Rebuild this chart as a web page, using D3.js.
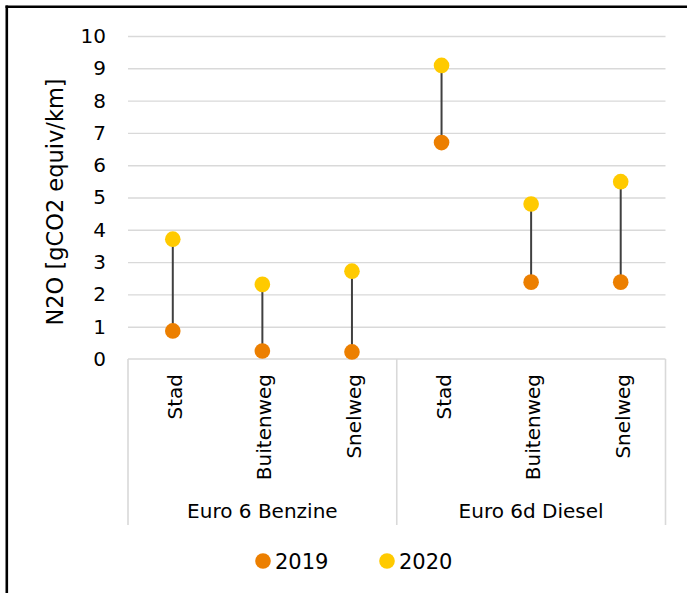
<!DOCTYPE html>
<html>
<head>
<meta charset="utf-8">
<script src="https://cdn.jsdelivr.net/npm/d3@7"></script>
<style>
  html, body { margin: 0; padding: 0; background: #fff; }
  svg { display: block; }
  text { font-family: "DejaVu Sans", "Liberation Sans", sans-serif; fill: #000; }
</style>
</head>
<body>
<svg id="chart" width="687" height="593"></svg>
<script>
// N2O emissions per road type, two vehicle classes, 2019 vs 2020
const groups = ["Euro 6 Benzine", "Euro 6d Diesel"];
const roads = ["Stad", "Buitenweg", "Snelweg"];
const values2019 = [0.87, 0.25, 0.22, 6.70, 2.38, 2.38];
const values2020 = [3.71, 2.31, 2.72, 9.09, 4.80, 5.49];
const yTicks = [0, 1, 2, 3, 4, 5, 6, 7, 8, 9, 10];
const seriesNames = ["2019", "2020"];
const seriesColors = ["#EC7F00", "#FFCA00"];
const yTitle = "N2O [gCO2 equiv/km]";

const svg = d3.select("#chart");
const W = 687, H = 593;
const plot = { left: 128, right: 665.5, top: 36, bottom: 359 };

// one slot per (group, road) pair
const keys = [];
groups.forEach((g, gi) => roads.forEach((r, ri) => keys.push({ key: g + "|" + r, group: g, road: r, i: gi * roads.length + ri })));

const x = d3.scaleBand().domain(keys.map(d => d.key)).range([plot.left, plot.right]).padding(0);
const xGroup = d3.scaleBand().domain(groups).range([plot.left, plot.right]).padding(0);
const y = d3.scaleLinear().domain([0, 10]).range([plot.bottom, plot.top]);

// outer frame (left and top edges visible)
svg.append("line").attr("x1", 6.8).attr("x2", 6.8).attr("y1", 5.5).attr("y2", H + 5)
  .attr("stroke", "#000").attr("stroke-width", 2.6);
svg.append("line").attr("x1", 5.5).attr("x2", W + 5).attr("y1", 6.8).attr("y2", 6.8)
  .attr("stroke", "#000").attr("stroke-width", 2.6);

// horizontal gridlines
const grid = svg.append("g").attr("transform", `translate(${plot.left},0)`)
  .call(d3.axisLeft(y).tickValues(yTicks.filter(v => v > 0)).tickSize(-(plot.right - plot.left)).tickFormat(""));
grid.select(".domain").remove();
grid.selectAll(".tick line").attr("stroke", "#D9D9D9").attr("stroke-width", 1.4);

// y-axis labels
const yAxis = svg.append("g").attr("transform", `translate(${plot.left},0)`)
  .call(d3.axisLeft(y).tickValues(yTicks).tickSize(0).tickPadding(22).tickFormat(d3.format("d")));
yAxis.select(".domain").remove();
yAxis.selectAll(".tick text").attr("font-size", 20).attr("font-family", "DejaVu Sans, sans-serif").attr("fill", "#000");

// y-axis title
svg.append("text")
  .attr("transform", "translate(63,202) rotate(-90)")
  .attr("text-anchor", "middle")
  .attr("font-size", 22.5)
  .text(yTitle);

// category axis: baseline, group separators
const axisY = plot.bottom;
const sepBottom = 525;
svg.append("line").attr("x1", plot.left).attr("x2", plot.right).attr("y1", axisY).attr("y2", axisY)
  .attr("stroke", "#D9D9D9").attr("stroke-width", 1.6);
const seps = [plot.left].concat(groups.map(g => xGroup(g) + xGroup.bandwidth()));
svg.selectAll(".sep").data(seps).join("line").attr("class", "sep")
  .attr("x1", d => d).attr("x2", d => d).attr("y1", axisY).attr("y2", sepBottom)
  .attr("stroke", "#D9D9D9").attr("stroke-width", 1.6);

// road labels, rotated
svg.selectAll(".road").data(keys).join("text").attr("class", "road")
  .attr("transform", d => `translate(${x(d.key) + x.bandwidth() / 2},374) rotate(-90)`)
  .attr("text-anchor", "end")
  .attr("dy", "0.45em")
  .attr("font-size", 20)
  .text(d => d.road);

// group labels
svg.selectAll(".grp").data(groups).join("text").attr("class", "grp")
  .attr("x", d => xGroup(d) + xGroup.bandwidth() / 2)
  .attr("y", 518)
  .attr("text-anchor", "middle")
  .attr("font-size", 20)
  .text(d => d);

// connector lines between 2019 and 2020
const cx = d => x(d.key) + x.bandwidth() / 2;
svg.selectAll(".conn").data(keys).join("line").attr("class", "conn")
  .attr("x1", cx).attr("x2", cx)
  .attr("y1", d => y(values2019[d.i])).attr("y2", d => y(values2020[d.i]))
  .attr("stroke", "#404040").attr("stroke-width", 2);

// markers
[values2019, values2020].forEach((vals, si) => {
  svg.selectAll(".m" + si).data(keys).join("circle").attr("class", "m" + si)
    .attr("cx", cx).attr("cy", d => y(vals[d.i])).attr("r", 7.8)
    .attr("fill", seriesColors[si]);
});

// legend
const legend = svg.append("g").attr("transform", "translate(263,561)");
const item = legend.selectAll("g").data(seriesNames).join("g")
  .attr("transform", (d, i) => `translate(${i * 124},0)`);
item.append("circle").attr("r", 7.8).attr("fill", (d, i) => seriesColors[i]);
item.append("text").attr("x", 12).attr("y", 8).attr("font-size", 21).text(d => d);
</script>
</body>
</html>
